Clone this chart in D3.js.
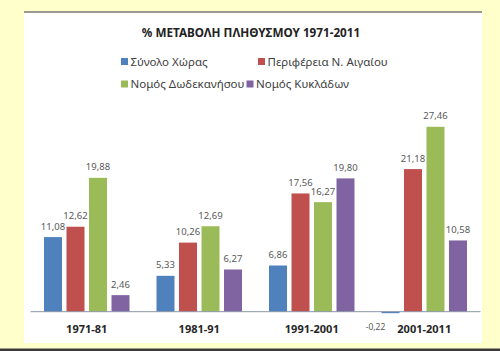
<!DOCTYPE html>
<html>
<head>
<meta charset="utf-8">
<script src="https://cdn.jsdelivr.net/npm/d3@7"></script>
<style>
  html, body { margin: 0; padding: 0; background: #ffffcc; }
  svg { display: block; }
</style>
</head>
<body>
<div id="chart"></div>
<script>
const periods = ["1971-81", "1981-91", "1991-2001", "2001-2011"];
const seriesNames = ["Σύνολο Χώρας", "Περιφέρεια Ν. Αιγαίου", "Νομός Δωδεκανήσου", "Νομός Κυκλάδων"];
const synoloXoras = [11.08, 5.33, 6.86, -0.22];
const periferia = [12.62, 10.26, 17.56, 21.18];
const dodekanisos = [19.88, 12.69, 16.27, 27.46];
const kyklades = [2.46, 6.27, 19.80, 10.58];
const seriesColors = ["#4f81bd", "#c0504d", "#9bbb59", "#8064a2"];

const values = [synoloXoras, periferia, dodekanisos, kyklades];

const width = 500, height = 351;
const font = "'Noto Sans', 'DejaVu Sans', sans-serif";

const svg = d3.select("#chart").append("svg")
  .attr("width", width)
  .attr("height", height);

// yellow page + white chart box
svg.append("rect").attr("width", width).attr("height", height).attr("fill", "#ffffcc");
svg.append("rect")
  .attr("x", 24).attr("y", 13)
  .attr("width", 458).attr("height", 330)
  .attr("fill", "#fff");
svg.append("rect")
  .attr("x", 24).attr("y", 11)
  .attr("width", 458).attr("height", 2)
  .attr("fill", "#9a9a92");
svg.append("rect")
  .attr("x", 0).attr("y", 348.5)
  .attr("width", width).attr("height", 2.5)
  .attr("fill", "#3a3a3a");

// title
svg.append("text")
  .attr("x", 251).attr("y", 37)
  .attr("text-anchor", "middle")
  .style("font-family", font)
  .style("font-size", "11.7px")
  .style("font-weight", "bold")
  .attr("fill", "#222")
  .text("% ΜΕΤΑΒΟΛΗ ΠΛΗΘΥΣΜΟΥ 1971-2011");

// legend
const legendPos = [
  { x: 121, y: 61.5 },
  { x: 258, y: 61.5 },
  { x: 121, y: 84 },
  { x: 246.5, y: 84 }
];
const legend = svg.append("g").selectAll("g")
  .data(seriesNames)
  .join("g")
  .attr("transform", (d, i) => `translate(${legendPos[i].x},${legendPos[i].y})`);
legend.append("rect")
  .attr("x", 0).attr("y", -3.5)
  .attr("width", 7).attr("height", 7)
  .attr("fill", (d, i) => seriesColors[i]);
legend.append("text")
  .attr("x", 9.5).attr("y", 4)
  .style("font-family", font)
  .style("font-size", "11.5px")
  .attr("fill", "#404040")
  .text(d => d);

// scales
const x0 = d3.scaleBand()
  .domain(periods)
  .range([30.5, 480.5]);

const x1 = d3.scaleBand()
  .domain(d3.range(seriesNames.length))
  .range([0, x0.bandwidth()])
  .paddingInner(0.2)
  .paddingOuter(0.6);

const y = d3.scaleLinear()
  .domain([0, 30])
  .range([311.7, 109.7]);

const cells = [];
periods.forEach((p, pi) => {
  values.forEach((s, si) => cells.push({ period: p, si, value: s[pi] }));
});

// bars
svg.append("g").selectAll("rect")
  .data(cells)
  .join("rect")
  .attr("x", d => x0(d.period) + x1(d.si))
  .attr("width", x1.bandwidth())
  .attr("y", d => y(Math.max(0, d.value)))
  .attr("height", d => Math.max(1.2, Math.abs(y(d.value) - y(0))))
  .attr("fill", d => seriesColors[d.si]);

// axis line
svg.append("line")
  .attr("x1", x0.range()[0]).attr("x2", x0.range()[1])
  .attr("y1", y(0)).attr("y2", y(0))
  .attr("stroke", "#8a96a8")
  .attr("stroke-width", 1);

// value labels
const fmt = v => v.toFixed(2).replace(".", ",");
svg.append("g").selectAll("text")
  .data(cells)
  .join("text")
  .attr("x", d => x0(d.period) + x1(d.si) + x1.bandwidth() / 2 + (d.value < 0 ? -15 : 0))
  .attr("y", d => d.value < 0 ? y(0) + 18.5 : y(d.value) - 7.5)
  .attr("text-anchor", "middle")
  .style("font-family", font)
  .style("font-size", d => d.value < 0 ? "8.5px" : "9.5px")
  .attr("fill", "#595959")
  .text(d => fmt(d.value));

// category labels
const xAxis = svg.append("g")
  .attr("transform", `translate(0,${y(0)})`)
  .call(d3.axisBottom(x0).tickSize(0).tickPadding(14));
xAxis.select(".domain").remove();
xAxis.selectAll("text")
  .style("font-family", font)
  .style("font-size", "11px")
  .style("font-weight", "bold")
  .attr("fill", "#262626");
</script>
</body>
</html>
